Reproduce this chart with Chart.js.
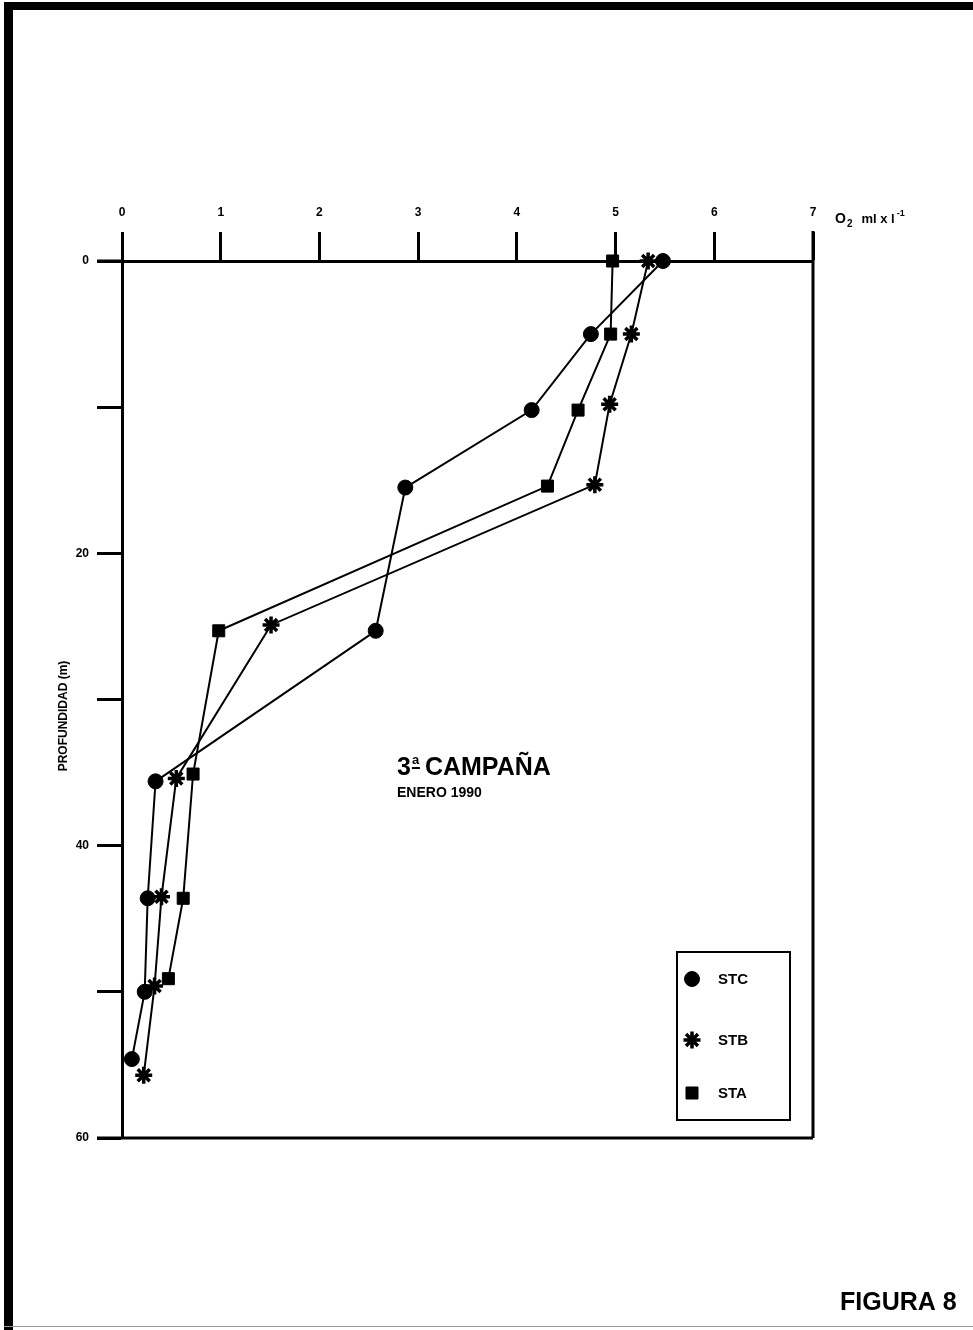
<!DOCTYPE html>
<html>
<head>
<meta charset="utf-8">
<script src="https://cdn.jsdelivr.net/npm/chart.js@4/dist/chart.umd.min.js"></script>
<style>
  html, body { margin: 0; padding: 0; background: #fff; }
  #wrap { position: relative; width: 973px; height: 1330px; overflow: hidden; }
  canvas { display: block; }
</style>
</head>
<body>
<div id="wrap"><canvas id="c" width="973" height="1330"></canvas></div>
<script>
// ---- Data ----
const stcO2    = [5.48, 4.75, 4.15, 2.87, 2.57, 0.34, 0.26, 0.23, 0.10];
const stcDepth = [0, 5, 10.2, 15.5, 25.3, 35.6, 43.6, 50.0, 54.6];
const stbO2    = [5.33, 5.16, 4.94, 4.79, 1.51, 0.55, 0.40, 0.33, 0.22];
const stbDepth = [0, 5, 9.8, 15.3, 24.9, 35.4, 43.5, 49.6, 55.7];
const staO2    = [4.97, 4.95, 4.62, 4.31, 0.98, 0.72, 0.62, 0.47];
const staDepth = [0, 5, 10.2, 15.4, 25.3, 35.1, 43.6, 49.1];
const seriesNames = ['STC', 'STB', 'STA'];
const xTicks = [0, 1, 2, 3, 4, 5, 6, 7];
const yTickLabels = [0, 20, 40, 60];

function pts(xs, ys) { return xs.map((v, i) => ({ x: v, y: ys[i] })); }

const FONT = "'Liberation Sans', Arial, sans-serif";

const frame = {
  id: 'frame',
  afterDraw(chart) {
    const ctx = chart.ctx;
    const a = chart.chartArea;
    ctx.save();
    // right and bottom plot borders
    ctx.strokeStyle = '#000';
    ctx.lineWidth = 3;
    ctx.beginPath();
    ctx.moveTo(a.right, a.top - 30);
    ctx.lineTo(a.right, a.bottom);
    ctx.moveTo(a.left - 25, a.bottom);
    ctx.lineTo(a.right, a.bottom);
    ctx.moveTo(a.left - 25, a.top);
    ctx.lineTo(a.left, a.top);
    ctx.stroke();

    // x-axis title: O2 ml x l-1
    ctx.fillStyle = '#000';
    ctx.textBaseline = 'alphabetic';
    ctx.textAlign = 'left';
    let tx = a.right + 22, ty = a.top - 38;
    ctx.font = 'bold 14px ' + FONT;
    ctx.fillText('O', tx, ty);
    tx += ctx.measureText('O').width + 1;
    ctx.font = 'bold 10px ' + FONT;
    ctx.fillText('2', tx, ty + 4);
    tx += ctx.measureText('2').width + 9;
    ctx.font = 'bold 13px ' + FONT;
    ctx.fillText('ml x l', tx, ty);
    tx += ctx.measureText('ml x l').width + 2;
    ctx.font = 'bold 9px ' + FONT;
    ctx.fillText('-1', tx, ty - 7);

    // y-axis title
    ctx.save();
    ctx.translate(a.left - 58, 716);
    ctx.rotate(-Math.PI / 2);
    ctx.textAlign = 'center';
    ctx.textBaseline = 'middle';
    ctx.font = 'bold 12px ' + FONT;
    ctx.fillText('PROFUNDIDAD (m)', 0, 0);
    ctx.restore();

    // annotation
    ctx.textAlign = 'left';
    ctx.font = 'bold 25px ' + FONT;
    ctx.fillText('3', 397, 775);
    let w3 = ctx.measureText('3').width;
    ctx.font = 'bold 13px ' + FONT;
    ctx.fillText('a', 397 + w3 + 1, 764);
    ctx.fillRect(397 + w3 + 1, 767, 8, 2);
    ctx.font = 'bold 25px ' + FONT;
    ctx.fillText('CAMPAÑA', 397 + w3 + 14, 775);
    ctx.font = 'bold 14px ' + FONT;
    ctx.fillText('ENERO 1990', 397, 797);

    // legend box
    const lx = 677, ly = 952, lw = 113, lh = 168;
    ctx.lineWidth = 2;
    ctx.strokeRect(lx, ly, lw, lh);
    const ds = chart.data.datasets;
    const rows = [979, 1040, 1093];
    ds.forEach((d, i) => {
      ctx.fillStyle = '#000';
      ctx.strokeStyle = '#000';
      ctx.lineWidth = d.pointBorderWidth;
      Chart.helpers.drawPoint(ctx, {
        pointStyle: d.pointStyle, radius: d.pointRadius, rotation: 0,
        borderWidth: d.pointBorderWidth
      }, lx + 15, rows[i]);
      ctx.font = 'bold 15px ' + FONT;
      ctx.textBaseline = 'middle';
      ctx.fillText(d.label, lx + 41, rows[i] + 1);
    });

    // FIGURA 8
    ctx.textBaseline = 'alphabetic';
    ctx.font = 'bold 25px ' + FONT;
    ctx.fillText('FIGURA 8', 840, 1310);

    // page border
    ctx.fillRect(4, 2, 9, 1328);
    ctx.fillRect(4, 2, 969, 8);
    ctx.fillStyle = '#999';
    ctx.fillRect(4, 1326, 969, 1);
    ctx.restore();
  }
};

const common = {
  borderColor: '#000', backgroundColor: '#000',
  pointBackgroundColor: '#000', pointBorderColor: '#000',
  borderWidth: 2, showLine: true, tension: 0, fill: false, clip: false,
};

new Chart(document.getElementById('c'), {
  type: 'scatter',
  data: {
    datasets: [
      Object.assign({}, common, { label: seriesNames[0], data: pts(stcO2, stcDepth), pointStyle: 'circle', pointRadius: 7.5, pointBorderWidth: 1 }),
      Object.assign({}, common, { label: seriesNames[1], data: pts(stbO2, stbDepth), pointStyle: 'star', pointRadius: 8.5, pointBorderWidth: 3.5 }),
      Object.assign({}, common, { label: seriesNames[2], data: pts(staO2, staDepth), pointStyle: 'rect', pointRadius: 8.5, pointBorderWidth: 1 }),
    ]
  },
  options: {
    responsive: false,
    animation: false,
    layout: { padding: { left: 72, top: 191, right: 160, bottom: 192 } },
    plugins: { legend: { display: false }, tooltip: { enabled: false } },
    scales: {
      x: {
        type: 'linear', position: 'top', min: 0, max: 7,
        afterBuildTicks: (s) => { s.ticks = xTicks.map(v => ({ value: v })); },
        afterFit: (s) => { s.height = 70; },
        grid: { drawOnChartArea: false, drawTicks: true, tickLength: 29, tickWidth: 3, color: '#000' },
        border: { display: true, color: '#000', width: 3 },
        ticks: { color: '#000', font: { family: FONT, weight: 'bold', size: 12 }, padding: 12, maxRotation: 0 }
      },
      y: {
        type: 'linear', reverse: true, min: 0, max: 60,
        afterBuildTicks: (s) => { const t = []; for (let v = 0; v <= 60; v += 10) t.push({ value: v }); s.ticks = t; },
        afterFit: (s) => { s.width = 50; },
        grid: { drawOnChartArea: false, drawTicks: true, tickLength: 25, tickWidth: 3, color: '#000' },
        border: { display: true, color: '#000', width: 3 },
        ticks: {
          color: '#000', font: { family: FONT, weight: 'bold', size: 12 }, padding: 8,
          callback: (v) => yTickLabels.includes(v) ? String(v) : ''
        }
      }
    }
  },
  plugins: [frame]
});
</script>
</body>
</html>
